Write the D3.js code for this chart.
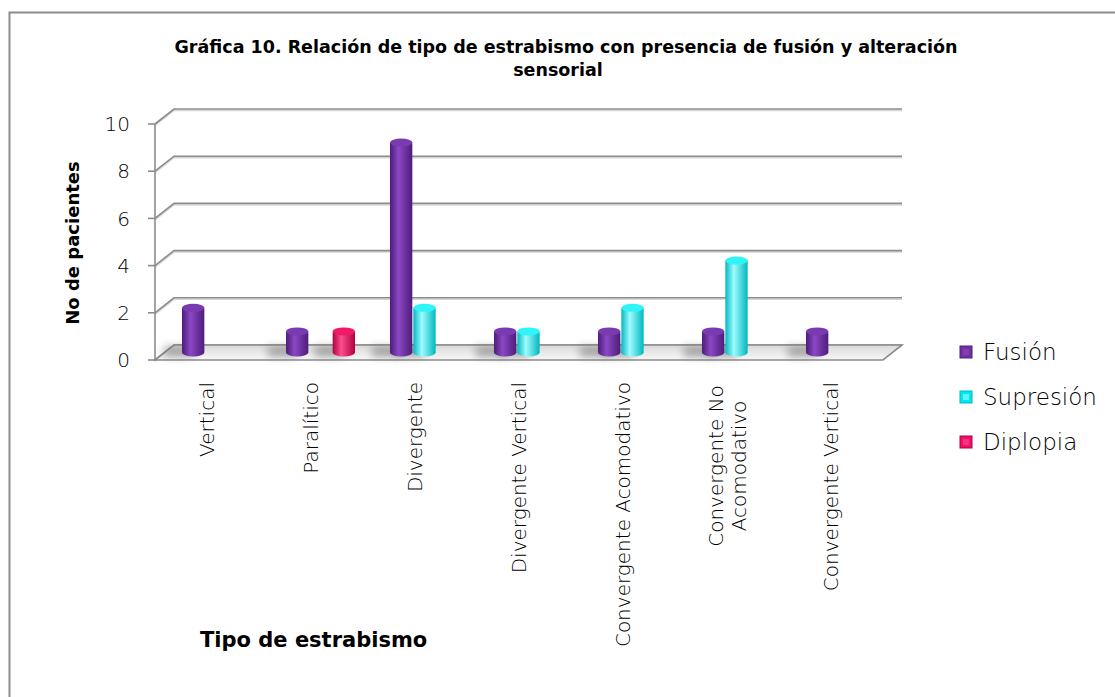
<!DOCTYPE html>
<html>
<head>
<meta charset="utf-8">
<script src="https://cdn.jsdelivr.net/npm/d3@7"></script>
<style>
  body { margin: 0; background: #fff; }
  svg { display: block; }
  text { font-family: "DejaVu Sans", sans-serif; fill: #000; }
</style>
</head>
<body>
<div id="chart"></div>
<script>

// data
var categories = ['Vertical', 'Paralítico', 'Divergente', 'Divergente Vertical',
    'Convergente Acomodativo', 'Convergente No Acomodativo', 'Convergente Vertical']
var category_lines = [['Vertical'], ['Paralítico'], ['Divergente'], ['Divergente Vertical'],
    ['Convergente Acomodativo'], ['Convergente No', 'Acomodativo'], ['Convergente Vertical']]
var series_names = ['Fusión', 'Supresión', 'Diplopia']
var fusion_values = [2, 1, 9, 1, 1, 1, 1]
var supresion_values = [0, 0, 2, 1, 2, 4, 0]
var diplopia_values = [0, 1, 0, 0, 0, 0, 0]
var y_ticks = [0, 2, 4, 6, 8, 10]

var title_lines = ['Gráfica 10. Relación de tipo de estrabismo con presencia de fusión y alteración', 'sensorial']

var series_colours = {
    'Fusión': { edge: '#4f1c7a', mid: '#8a48c4', top: '#7a3bb0', key: '#7030a0' },
    'Supresión': { edge: '#00b8c0', mid: '#9ffcff', top: '#2ff5f7', key: '#00e8ee' },
    'Diplopia': { edge: '#b0003f', mid: '#ff4d8e', top: '#f01a6a', key: '#f0106a' }
}

var series_values = {
    'Fusión': fusion_values,
    'Supresión': supresion_values,
    'Diplopia': diplopia_values
}

var dataset = []
categories.forEach(function(c, i) {
    series_names.forEach(function(s) {
        dataset.push({ category: c, series: s, value: series_values[s][i] })
    })
})

var config = {
    width: 1115,
    height: 697,
    left: 155,
    right: 883,
    top: 124,
    bottom: 360,
    depth_x: 19,
    depth_y: -15
}

var svg = d3.select('#chart').append('svg')
    .attr('width', config.width)
    .attr('height', config.height)

var defs = svg.append('defs')

// frame
svg.append('rect')
    .attr('x', 9.5).attr('y', 12.5)
    .attr('width', 1200).attr('height', 800)
    .attr('fill', 'none')
    .attr('stroke', '#8c8c8c')
    .attr('stroke-width', 2)

// scales
var xScale = d3.scaleBand()
    .domain(categories)
    .range([config.left, config.right])

var xSub = d3.scaleBand()
    .domain(series_names)
    .range([-35, 35])

var yScale = d3.scaleLinear()
    .domain([0, 10])
    .range([config.bottom, config.top])

// gradients
series_names.forEach(function(s, i) {
    var g = defs.append('linearGradient')
        .attr('id', 'cyl' + i)
        .attr('x1', '0%').attr('x2', '100%')
        .attr('y1', '0%').attr('y2', '0%')
    g.append('stop').attr('offset', '0%').attr('stop-color', series_colours[s].edge)
    g.append('stop').attr('offset', '38%').attr('stop-color', series_colours[s].mid)
    g.append('stop').attr('offset', '100%').attr('stop-color', series_colours[s].edge)
})

var floorGrad = defs.append('linearGradient')
    .attr('id', 'floorGrad')
    .attr('x1', '0%').attr('x2', '0%').attr('y1', '0%').attr('y2', '100%')
floorGrad.append('stop').attr('offset', '0%').attr('stop-color', '#d9d9d9')
floorGrad.append('stop').attr('offset', '100%').attr('stop-color', '#f7f7f7')

defs.append('filter')
    .attr('id', 'blur')
    .attr('x', '-50%').attr('y', '-100%').attr('width', '200%').attr('height', '300%')
    .append('feGaussianBlur')
    .attr('stdDeviation', 4)

// back wall gridlines
var grid = svg.append('g').classed('grid', true)

grid.selectAll('.gridline-shadow')
    .data(y_ticks)
    .enter()
    .append('polyline')
    .attr('points', function(d) {
        var y = yScale(d)
        return [[config.left, y + 1.5], [config.left + config.depth_x, y + config.depth_y + 1.5],
            [config.right + config.depth_x, y + config.depth_y + 1.5]].join(' ')
    })
    .attr('fill', 'none')
    .attr('stroke', '#d6d6d6')
    .attr('stroke-width', 1.5)

grid.selectAll('.gridline')
    .data(y_ticks)
    .enter()
    .append('polyline')
    .attr('points', function(d) {
        var y = yScale(d)
        return [[config.left, y], [config.left + config.depth_x, y + config.depth_y],
            [config.right + config.depth_x, y + config.depth_y]].join(' ')
    })
    .attr('fill', 'none')
    .attr('stroke', '#8c8c8c')
    .attr('stroke-width', 1.6)

// floor
var y0 = yScale(0)
svg.append('polygon')
    .attr('points', [[config.left, y0], [config.right, y0],
        [config.right + config.depth_x, y0 + config.depth_y],
        [config.left + config.depth_x, y0 + config.depth_y]].join(' '))
    .attr('fill', 'url(#floorGrad)')
    .attr('stroke', '#8c8c8c')
    .attr('stroke-width', 1.6)

// shadows on floor
var bars = dataset.filter(function(d) { return d.value > 0 })

svg.append('g').classed('shadows', true)
    .selectAll('rect')
    .data(bars)
    .enter()
    .append('rect')
    .attr('x', d => xScale(d.category) + xScale.bandwidth() / 2 + xSub(d.series) - 8)
    .attr('y', y0 + config.depth_y + 2)
    .attr('width', xSub.bandwidth() + 6)
    .attr('height', 9)
    .attr('fill', '#6e6e6e')
    .attr('opacity', 0.65)
    .attr('filter', 'url(#blur)')

// front axis
svg.append('line')
    .attr('x1', config.left).attr('x2', config.left)
    .attr('y1', yScale(10)).attr('y2', y0)
    .attr('stroke', '#8c8c8c')
    .attr('stroke-width', 1.6)

var yAxis = svg.append('g').classed('y axis', true)

yAxis.selectAll('line')
    .data(y_ticks)
    .enter()
    .append('line')
    .attr('x1', config.left - 7).attr('x2', config.left)
    .attr('y1', d => yScale(d)).attr('y2', d => yScale(d))
    .attr('stroke', '#8c8c8c')
    .attr('stroke-width', 1.6)

yAxis.selectAll('text')
    .data(y_ticks)
    .enter()
    .append('text')
    .attr('x', config.left - 25)
    .attr('y', d => yScale(d))
    .attr('dy', '0.36em')
    .attr('text-anchor', 'end')
    .style('font-size', '20px')
    .style('font-weight', 200)
    .text(d => d)

// cylinders
var rx = xSub.bandwidth() / 2 - 0.5
var ry = 4
var mid_x = config.depth_x / 2
var mid_y = config.depth_y / 2

var cyl = svg.append('g').classed('data-layer', true)
    .selectAll('g')
    .data(bars)
    .enter()
    .append('g')

cyl.each(function(d) {
    var cx = xScale(d.category) + xScale.bandwidth() / 2 + xSub(d.series) + xSub.bandwidth() / 2 + mid_x
    var top = yScale(d.value) + mid_y + 2.5
    var bottom = y0 + mid_y
    var idx = series_names.indexOf(d.series)

    d3.select(this).append('path')
        .attr('d', 'M' + (cx - rx) + ',' + top +
            'L' + (cx - rx) + ',' + bottom +
            'A' + rx + ',' + ry + ' 0 0 0 ' + (cx + rx) + ',' + bottom +
            'L' + (cx + rx) + ',' + top + 'Z')
        .attr('fill', 'url(#cyl' + idx + ')')

    d3.select(this).append('ellipse')
        .attr('cx', cx).attr('cy', top)
        .attr('rx', rx).attr('ry', ry)
        .attr('fill', series_colours[d.series].top)
})

// category labels
var xLabels = svg.append('g').classed('x axis', true)
    .selectAll('text')
    .data(categories)
    .enter()
    .append('text')
    .attr('transform', function(d) {
        var x = xScale(d) + xScale.bandwidth() / 2
        return 'translate(' + x + ',382) rotate(-90)'
    })
    .attr('text-anchor', function(d, i) { return category_lines[i].length > 1 ? 'middle' : 'end' })
    .style('font-size', '20px')
    .style('font-weight', 200)

xLabels.each(function(d, i) {
    var lines = category_lines[i]
    var t = d3.select(this)
    var n = lines.length
    lines.forEach(function(l, j) {
        t.append('tspan')
            .attr('x', n > 1 ? -84 : 0)
            .attr('y', ((j - (n - 1) / 2) * 23))
            .attr('dy', '0.36em')
            .text(l)
    })
})

// titles
svg.append('g').selectAll('text')
    .data(title_lines)
    .enter()
    .append('text')
    .attr('x', (d, i) => i === 0 ? 566 : 558)
    .attr('y', (d, i) => 53 + i * 23)
    .attr('text-anchor', 'middle')
    .style('font-size', '17.5px')
    .style('font-weight', 'bold')
    .text(d => d)

svg.append('text')
    .attr('transform', 'translate(79,243) rotate(-90)')
    .attr('text-anchor', 'middle')
    .style('font-size', '18px')
    .style('font-weight', 'bold')
    .text('No de pacientes')

svg.append('text')
    .attr('x', 200)
    .attr('y', 647)
    .style('font-size', '21px')
    .style('font-weight', 'bold')
    .text('Tipo de estrabismo')

// legend
var legend = svg.append('g').classed('legend', true)
    .selectAll('g')
    .data(series_names)
    .enter()
    .append('g')
    .attr('transform', (d, i) => 'translate(960,' + (352 + i * 45) + ')')

legend.append('rect')
    .attr('x', 0).attr('y', -6)
    .attr('width', 12).attr('height', 12)
    .attr('fill', d => series_colours[d].key)
    .attr('stroke', d => series_colours[d].edge)
    .attr('stroke-width', 1)

legend.append('rect')
    .attr('x', 3).attr('y', -3)
    .attr('width', 6).attr('height', 6)
    .attr('fill', d => series_colours[d].mid)
    .attr('opacity', 0.6)

legend.append('text')
    .attr('x', 23)
    .attr('y', 0)
    .attr('dy', '0.36em')
    .style('font-size', '23px')
    .style('font-weight', 200)
    .text(d => d)

</script>
</body>
</html>
